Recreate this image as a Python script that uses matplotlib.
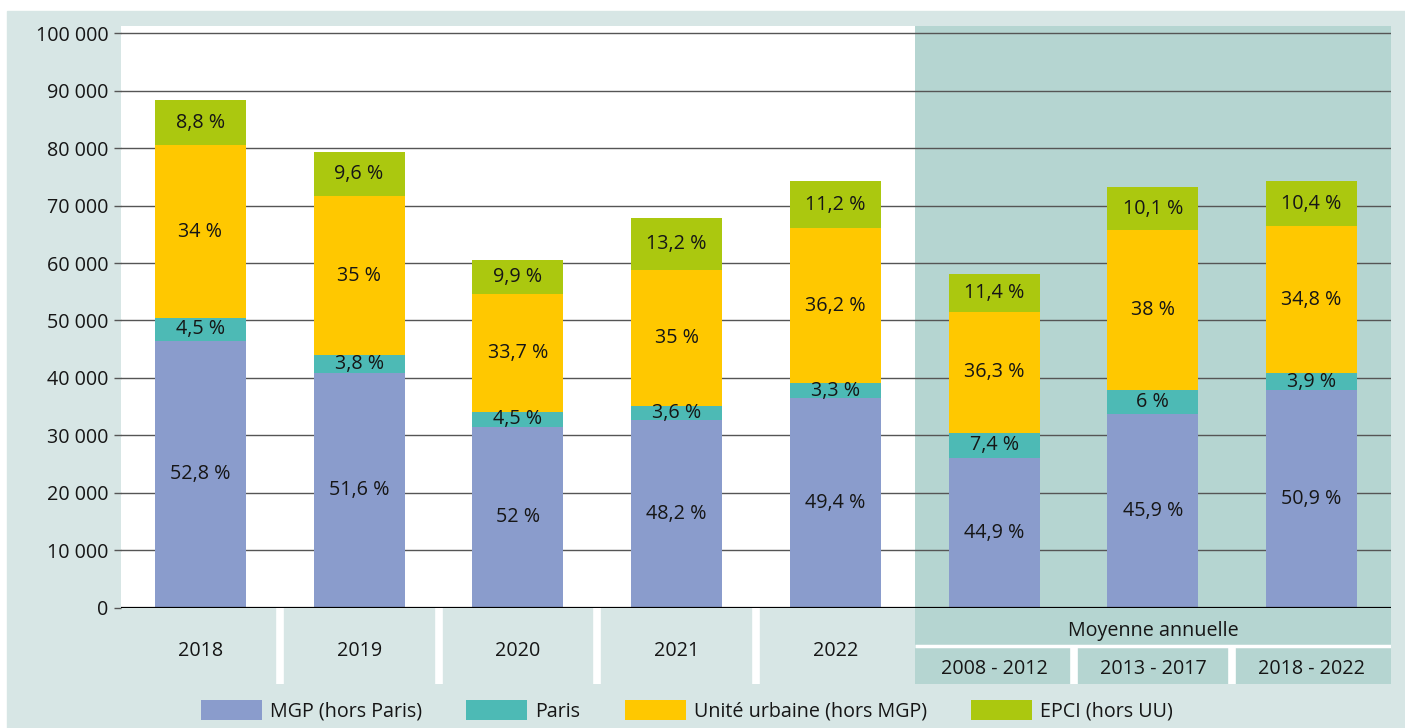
import matplotlib
matplotlib.use('Agg')
import matplotlib.pyplot as plt
from matplotlib.patches import Rectangle
from matplotlib.ticker import FuncFormatter
import numpy as np

plt.rcParams['font.family'] = ['Open Sans', 'DejaVu Sans']

# categories (5 single years + 3 annual averages)
categories = ['2018', '2019', '2020', '2021', '2022',
              '2008 - 2012', '2013 - 2017', '2018 - 2022']
group_label = 'Moyenne annuelle'

# stacked values
mgp = [46500, 40850, 31400, 32600, 36500, 26100, 33750, 37850]
paris = [3900, 3050, 2730, 2500, 2600, 4250, 4200, 3000]
uu = [30100, 27800, 20400, 23700, 27000, 21200, 27800, 25550]
epci = [7900, 7650, 6000, 9000, 8200, 6550, 7500, 7900]

# printed shares
lab_mgp = ['52,8 %', '51,6 %', '52 %', '48,2 %', '49,4 %', '44,9 %', '45,9 %', '50,9 %']
lab_paris = ['4,5 %', '3,8 %', '4,5 %', '3,6 %', '3,3 %', '7,4 %', '6 %', '3,9 %']
lab_uu = ['34 %', '35 %', '33,7 %', '35 %', '36,2 %', '36,3 %', '38 %', '34,8 %']
lab_epci = ['8,8 %', '9,6 %', '9,9 %', '13,2 %', '11,2 %', '11,4 %', '10,1 %', '10,4 %']

series_names = ['MGP (hors Paris)', 'Paris', 'Unité urbaine (hors MGP)', 'EPCI (hors UU)']
colors = ['#8a9ccc', '#4dbab5', '#ffc800', '#abc80f']
panel = '#d7e6e5'
shade = '#b5d5d1'
txt = '#161616'
fs = 14.2

W, H = 1405, 728
fig = plt.figure(figsize=(W / 100, H / 100), dpi=100)
fig.patches.append(Rectangle((7 / W, 0), 1 - 7 / W, 1 - 11 / H,
                             transform=fig.transFigure, color=panel, zorder=-10))

# --- main axes ---
ax = fig.add_axes([121 / W, 1 - 607.5 / H, 1270 / W, 581.5 / H])
ax.set_facecolor('white')
ax.axvspan(4.5, 7.5, color=shade, zorder=0, lw=0)
ax.set_xlim(-0.5, 7.5)
ax.set_ylim(0, 101300)
ax.set_yticks(np.arange(0, 100001, 10000))
ax.yaxis.set_major_formatter(FuncFormatter(lambda v, p: f'{int(v):,}'.replace(',', ' ')))
ax.yaxis.grid(True, color='#555555', lw=1.0)
ax.set_axisbelow(True)
ax.set_xticks([])
ax.tick_params(axis='y', length=5, width=1, color='#555555', pad=4,
               labelsize=fs, labelcolor=txt)
for s in ax.spines.values():
    s.set_visible(False)
ax.axhline(0, color='black', lw=1.6, zorder=4)

x = np.arange(len(categories))
bw = 0.572
bottom = np.zeros(len(categories))
handles = []
for vals, labs, c, name in zip([mgp, paris, uu, epci],
                               [lab_mgp, lab_paris, lab_uu, lab_epci],
                               colors, series_names):
    vals = np.array(vals, dtype=float)
    b = ax.bar(x, vals, bw, bottom=bottom, color=c, zorder=3, label=name)
    handles.append(b)
    for xi, yb, v, l in zip(x, bottom, vals, labs):
        ax.text(xi, yb + v / 2, l, ha='center', va='center',
                fontsize=fs, color=txt, zorder=5)
    bottom += vals

# --- category strip below the axis ---
ax2 = fig.add_axes([121 / W, 1 - 684 / H, 1270 / W, 76.5 / H])
ax2.set_xlim(-0.5, 7.5)
ax2.set_ylim(0, 76.5)
ax2.axis('off')
ax2.add_patch(Rectangle((4.5, 0), 3, 76.5, color=shade, lw=0))
ax2.vlines([0.5, 1.5, 2.5, 3.5], 0, 76.5, color='white', lw=5.5)
ax2.vlines([5.5, 6.5], 0, 37.5, color='white', lw=5.5)
ax2.hlines(38, 4.5, 7.5, color='white', lw=2.5)
for xi, c in zip(x[:5], categories[:5]):
    ax2.text(xi, 33.5, c, ha='center', va='center', fontsize=fs, color=txt)
for xi, c in zip(x[5:], categories[5:]):
    ax2.text(xi, 15, c, ha='center', va='center', fontsize=fs, color=txt)
ax2.text(6, 53, group_label, ha='center', va='center', fontsize=fs, color=txt)

# --- legend ---
fig.legend(handles, series_names, loc='center', bbox_to_anchor=(687 / W, 1 - 711 / H),
           ncol=4, frameon=False, fontsize=fs, labelcolor=txt,
           handlelength=3.1, handleheight=1.15, handletextpad=0.4, columnspacing=2.25,
           borderaxespad=0, borderpad=0)

fig.savefig('out.png', dpi=100, facecolor='white')
